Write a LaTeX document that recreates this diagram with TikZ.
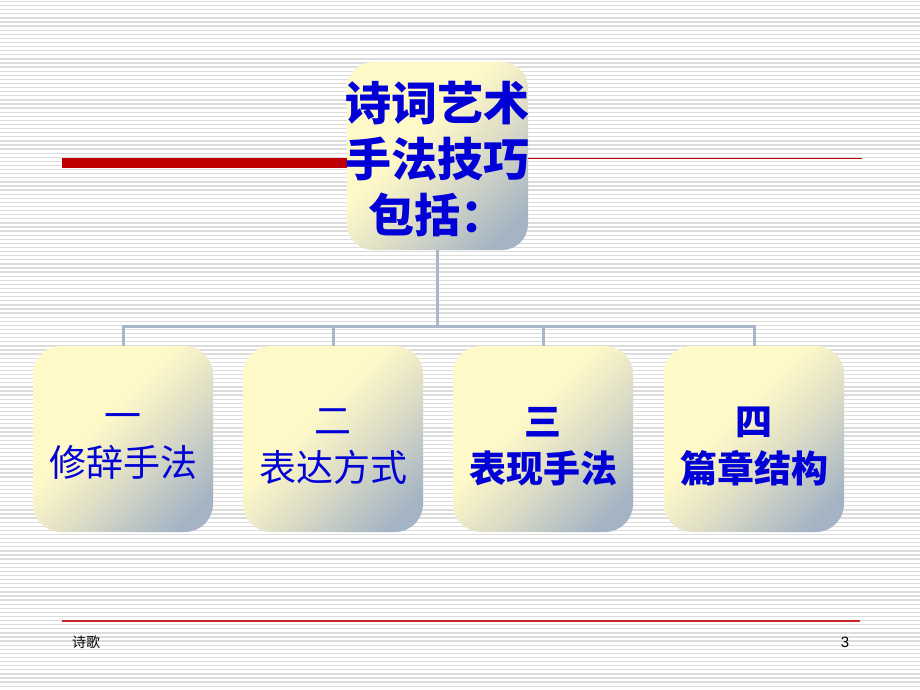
\documentclass[tikz,border=0pt]{standalone}
\usepackage{fontspec}
\setmainfont{Liberation Sans}
\newfontfamily\cjk{Noto Sans CJK SC}
\usetikzlibrary{calc}
\definecolor{byel}{RGB}{255,249,200}
\definecolor{bmid}{RGB}{220,220,198}
\definecolor{bgray}{RGB}{164,180,196}
\definecolor{txtblue}{RGB}{0,0,215}
\definecolor{barred}{RGB}{192,0,0}
\definecolor{footred}{RGB}{200,40,40}
\definecolor{stripegray}{RGB}{220,220,220}
\definecolor{conncol}{RGB}{168,184,200}
\pgfdeclarehorizontalshading{boxshade}{100bp}{color(0bp)=(byel); color(42bp)=(byel); color(58bp)=(bmid); color(78bp)=(bgray); color(100bp)=(bgray)}
\tikzset{
  stripe/.style={draw=stripegray, line width=1.3pt},
  boxbase/.style={shade, shading=boxshade, shading angle=-45, inner sep=0pt},
  topbox/.style={boxbase, minimum width=181, minimum height=188, rounded corners=26},
  subbox/.style={boxbase, minimum width=180, minimum height=186, rounded corners=28},
  toptext/.style={inner sep=0pt, align=center, text=txtblue, font=\cjk\bfseries\fontsize{46}{56}\selectfont},
  subtext/.style={inner sep=0pt, align=center, text=txtblue, font=\cjk\fontsize{37}{47}\selectfont},
  subtextb/.style={subtext, font=\cjk\bfseries\fontsize{37}{47}\selectfont},
  conn/.style={draw=conncol, line width=3pt},
  foot/.style={font=\cjk\fontsize{14}{16}\selectfont, text=black, inner sep=0pt}
}
\begin{document}
\begin{tikzpicture}[x=1pt,y=-1pt]
\useasboundingbox (0,0) rectangle (920,690);
\fill[white] (0,0) rectangle (920,690);
\foreach \i in {0,...,168} \draw[stripe] (0,\i*4.1+1.5) -- (920,\i*4.1+1.5);
% decorative red lines
\fill[barred] (62,157.5) rectangle (360,167.5);
\draw[barred, line width=1pt] (520,158) -- (862,158);
% footer line
\draw[footred, line width=1.2pt] (62,621) -- (860,621);
% boxes
\node[topbox] (top) at (437.5,156) {};
\node[toptext] (topt) at (437.5,159) {诗词艺术\\手法技巧\\包括：};
\coordinate (hub) at (437.5,326);
\node[subbox] (b1) at (123,439) {};
\node[subbox] (b2) at (333,439) {};
\node[subbox] (b3) at (543,439) {};
\node[subbox] (b4) at (754,439) {};
\node[subtext]  (t1) at (123,447) {一\\修辞手法};
\node[subtext]  (t2) at (333,447) {二\\表达方式};
\node[subtextb] (t3) at (543,447) {三\\表现手法};
\node[subtextb] (t4) at (754,447) {四\\篇章结构};
% connectors
\draw[conn] (top.south) -- (hub);
\draw[conn] (hub) -| (b1.north);
\draw[conn] (hub) -| (b2.north);
\draw[conn] (hub) -| (b3.north);
\draw[conn] (hub) -| (b4.north);
% footer text
\node[foot] (ft) at (86,642) {诗歌};
\node[foot, font=\fontsize{15}{17}\selectfont] (pg) at (845,642) {3};
\end{tikzpicture}
\end{document}
